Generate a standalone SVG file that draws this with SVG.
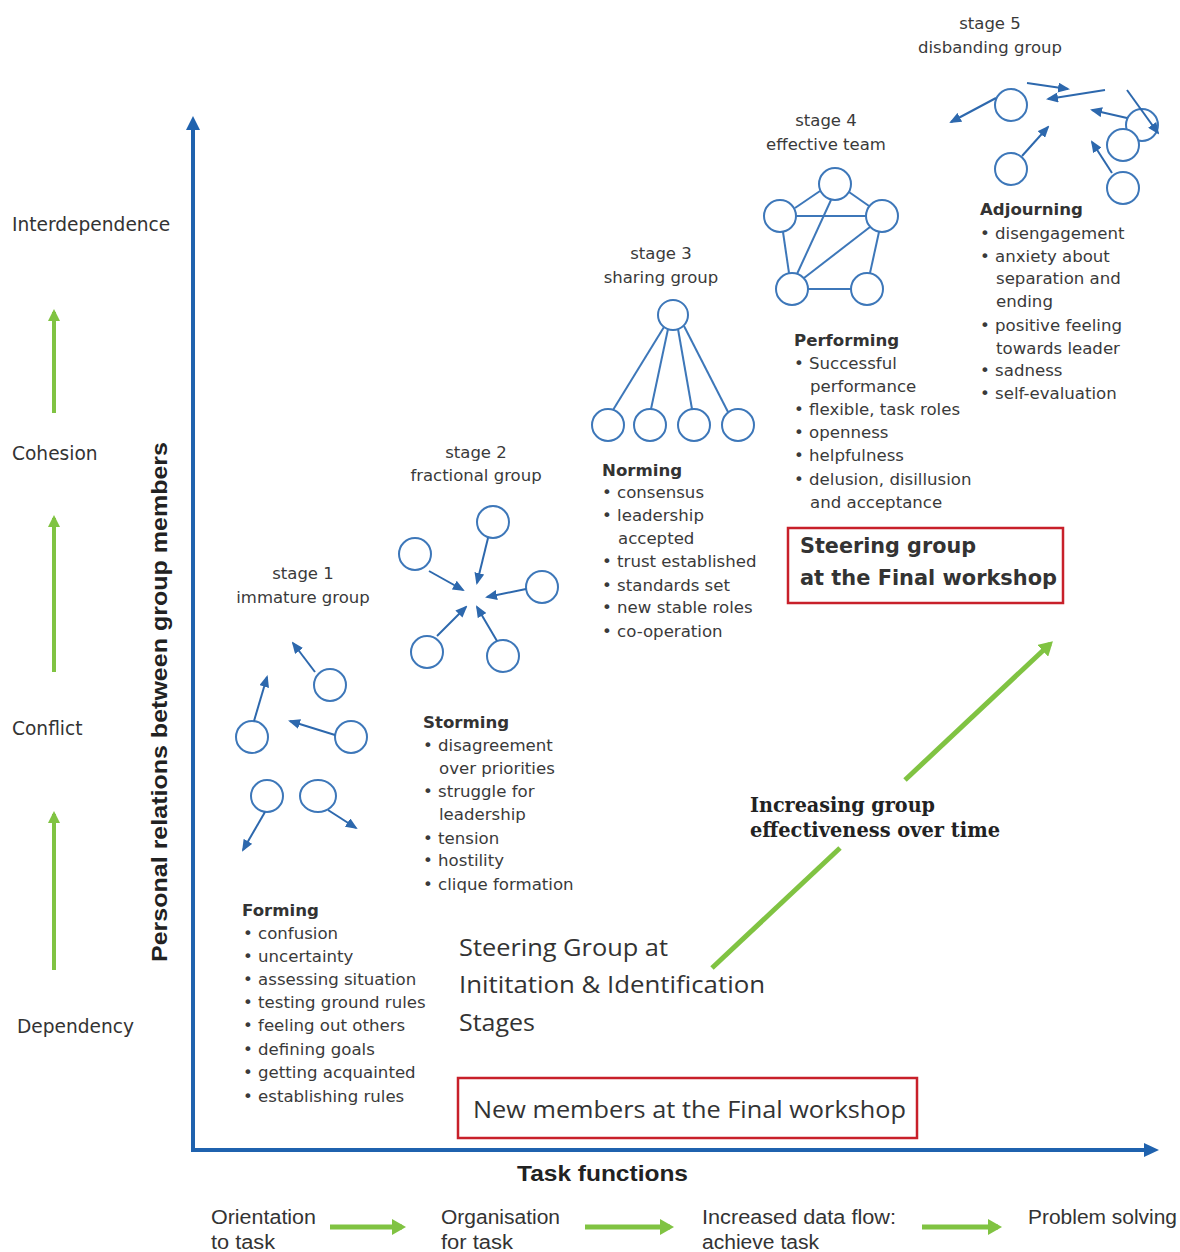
<svg xmlns="http://www.w3.org/2000/svg" width="1180" height="1252" viewBox="0 0 1180 1252">
<defs>
<style>
.t{font-family:"DejaVu Sans",Verdana,sans-serif;font-size:16.6px;fill:#3a3a3a}
.h{font-family:"DejaVu Sans",Verdana,sans-serif;font-size:16.6px;font-weight:bold;fill:#333}
.lab{font-family:"DejaVu Sans",Verdana,sans-serif;font-size:18.6px;fill:#333}
.st{font-family:"DejaVu Sans",Verdana,sans-serif;font-size:16.5px;fill:#3a3a3a;text-anchor:middle}
.c{fill:#fff;stroke:#3d77b9;stroke-width:2}
.e{stroke:#3d77b9;stroke-width:2;fill:none}
.a{stroke:#2d68ad;stroke-width:2;fill:none;marker-end:url(#bh)}
.g{stroke:#80c342;stroke-width:5;fill:none}
.gv{stroke:#80c342;stroke-width:4;fill:none;marker-end:url(#gh2)}
.ax{stroke:#1f62ae;stroke-width:4;fill:none}
.bl{font-family:"Liberation Sans",Arial,sans-serif;font-size:20px;fill:#333}
.os{font-family:"Open Sans","DejaVu Sans",sans-serif;font-size:23px;fill:#333}
.box{fill:none;stroke:#c8202a;stroke-width:2.5}
</style>
<marker id="bh" markerUnits="userSpaceOnUse" markerWidth="12" markerHeight="10" refX="10" refY="5" orient="auto"><path d="M0,0 L12,5 L0,10 z" fill="#2d68ad"/></marker>
<marker id="gh" markerUnits="userSpaceOnUse" markerWidth="14" markerHeight="16" refX="10" refY="8" orient="auto"><path d="M0,0 L14,8 L0,16 z" fill="#80c342"/></marker>
<marker id="gh2" markerUnits="userSpaceOnUse" markerWidth="12" markerHeight="12" refX="9" refY="6" orient="auto"><path d="M0,0 L12,6 L0,12 z" fill="#80c342"/></marker>
</defs>
<rect width="1180" height="1252" fill="#fff"/>

<g id="axes">
<line class="ax" x1="193" y1="1150" x2="193" y2="128"/>
<path d="M186,130 L193,116 L200,130 z" fill="#1f62ae"/>
<line class="ax" x1="191" y1="1150" x2="1146" y2="1150"/>
<path d="M1144,1143 L1159,1150 L1144,1157 z" fill="#1f62ae"/>
<text transform="translate(167,962) rotate(-90)" font-family="'Liberation Sans',Arial,sans-serif" font-size="22" font-weight="bold" fill="#222" textLength="520" lengthAdjust="spacingAndGlyphs">Personal relations between group members</text>
<text x="517" y="1181" font-family="'Liberation Sans',Arial,sans-serif" font-size="22" font-weight="bold" fill="#222" textLength="171" lengthAdjust="spacingAndGlyphs">Task functions</text>
</g>

<g id="left-scale">
<text class="lab" x="12" y="231">Interdependence</text>
<text class="lab" x="12" y="460">Cohesion</text>
<text class="lab" x="12" y="735">Conflict</text>
<text class="lab" x="17" y="1033">Dependency</text>
<line class="gv" x1="54" y1="970" x2="54" y2="814"/>
<line class="gv" x1="54" y1="672" x2="54" y2="518"/>
<line class="gv" x1="54" y1="413" x2="54" y2="312"/>
</g>

<g id="task-row">
<text class="bl" x="211" y="1224" textLength="105" lengthAdjust="spacingAndGlyphs">Orientation</text>
<text class="bl" x="211" y="1249" textLength="64" lengthAdjust="spacingAndGlyphs">to task</text>
<text class="bl" x="441" y="1224" textLength="119" lengthAdjust="spacingAndGlyphs">Organisation</text>
<text class="bl" x="441" y="1249" textLength="72" lengthAdjust="spacingAndGlyphs">for task</text>
<text class="bl" x="702" y="1224" textLength="194" lengthAdjust="spacingAndGlyphs">Increased data flow:</text>
<text class="bl" x="702" y="1249" textLength="117" lengthAdjust="spacingAndGlyphs">achieve task</text>
<text class="bl" x="1028" y="1224" textLength="149" lengthAdjust="spacingAndGlyphs">Problem solving</text>
<line x1="330" y1="1227" x2="402" y2="1227" stroke="#80c342" stroke-width="5" marker-end="url(#gh)"/>
<line x1="585" y1="1227" x2="670" y2="1227" stroke="#80c342" stroke-width="5" marker-end="url(#gh)"/>
<line x1="922" y1="1227" x2="998" y2="1227" stroke="#80c342" stroke-width="5" marker-end="url(#gh)"/>
</g>

<g id="stage1">
<text class="st" x="303" y="579">stage 1</text>
<text class="st" x="303" y="603">immature group</text>
<circle class="c" cx="330" cy="685" r="16"/>
<circle class="c" cx="252" cy="737" r="16"/>
<circle class="c" cx="351" cy="737" r="16"/>
<circle class="c" cx="267" cy="796" r="16"/>
<ellipse class="c" cx="318" cy="796" rx="18" ry="16"/>
<text class="h" x="242" y="916">Forming</text>
<text class="t" x="243" y="939">• confusion</text>
<text class="t" x="243" y="962">• uncertainty</text>
<text class="t" x="243" y="985">• assessing  situation</text>
<text class="t" x="243" y="1008">• testing ground rules</text>
<text class="t" x="243" y="1031">• feeling out others</text>
<text class="t" x="243" y="1055">• defining goals</text>
<text class="t" x="243" y="1078">• getting acquainted</text>
<text class="t" x="243" y="1102">• establishing rules</text>
</g>

<g id="stage2">
<text class="st" x="476" y="458">stage 2</text>
<text class="st" x="476" y="481">fractional group</text>
<circle class="c" cx="493" cy="522" r="16"/>
<circle class="c" cx="415" cy="554" r="16"/>
<circle class="c" cx="542" cy="587" r="16"/>
<circle class="c" cx="427" cy="652" r="16"/>
<circle class="c" cx="503" cy="656" r="16"/>
<text class="h" x="423" y="728">Storming</text>
<text class="t" x="423" y="751">• disagreement</text>
<text class="t" x="439" y="774">over priorities</text>
<text class="t" x="423" y="797">• struggle for</text>
<text class="t" x="439" y="820">leadership</text>
<text class="t" x="423" y="844">• tension</text>
<text class="t" x="423" y="866">• hostility</text>
<text class="t" x="423" y="890">• clique formation</text>
</g>

<g id="stage3">
<text class="st" x="661" y="259">stage 3</text>
<text class="st" x="661" y="283">sharing group</text>
<circle class="c" cx="673" cy="315" r="15"/>
<circle class="c" cx="608" cy="425" r="16"/>
<circle class="c" cx="650" cy="425" r="16"/>
<circle class="c" cx="694" cy="425" r="16"/>
<circle class="c" cx="738" cy="425" r="16"/>
<text class="h" x="602" y="476">Norming</text>
<text class="t" x="602" y="498">• consensus</text>
<text class="t" x="602" y="521">• leadership</text>
<text class="t" x="618" y="544">accepted</text>
<text class="t" x="602" y="567">• trust established</text>
<text class="t" x="602" y="591">• standards set</text>
<text class="t" x="602" y="613">• new stable roles</text>
<text class="t" x="602" y="637">• co-operation</text>
</g>

<g id="stage4">
<text class="st" x="826" y="126">stage 4</text>
<text class="st" x="826" y="150">effective team</text>
<circle class="c" cx="835" cy="184" r="16"/>
<circle class="c" cx="780" cy="216" r="16"/>
<circle class="c" cx="882" cy="216" r="16"/>
<circle class="c" cx="792" cy="289" r="16"/>
<circle class="c" cx="867" cy="289" r="16"/>
<text class="h" x="794" y="346">Performing</text>
<text class="t" x="794" y="369">• Successful</text>
<text class="t" x="810" y="392">performance</text>
<text class="t" x="794" y="415">• flexible, task roles</text>
<text class="t" x="794" y="438">• openness</text>
<text class="t" x="794" y="461">• helpfulness</text>
<text class="t" x="794" y="485">• delusion, disillusion</text>
<text class="t" x="810" y="508">and acceptance</text>
</g>

<g id="stage5">
<text class="st" x="990" y="29">stage 5</text>
<text class="st" x="990" y="53">disbanding group</text>
<circle class="c" cx="1011" cy="105" r="16"/>
<circle class="c" cx="1011" cy="169" r="16"/>
<circle class="c" cx="1142" cy="125" r="16"/>
<circle class="c" cx="1123" cy="145" r="16"/>
<circle class="c" cx="1123" cy="188" r="16"/>
<text class="h" x="980" y="215">Adjourning</text>
<text class="t" x="980" y="239">• disengagement</text>
<text class="t" x="980" y="262">• anxiety about</text>
<text class="t" x="996" y="284">separation and</text>
<text class="t" x="996" y="307">ending</text>
<text class="t" x="980" y="331">• positive feeling</text>
<text class="t" x="996" y="354">towards leader</text>
<text class="t" x="980" y="376">• sadness</text>
<text class="t" x="980" y="399">• self-evaluation</text>
</g>

<g id="connectors">
<line class="a" x1="315" y1="672" x2="293" y2="643"/>
<line class="a" x1="254" y1="721" x2="267" y2="677"/>
<line class="a" x1="335" y1="735" x2="290" y2="721"/>
<line class="a" x1="265" y1="812" x2="243" y2="850"/>
<line class="a" x1="328" y1="810" x2="356" y2="828"/>
<line class="a" x1="488" y1="538" x2="477" y2="583"/>
<line class="a" x1="429" y1="571" x2="463" y2="590"/>
<line class="a" x1="526" y1="589" x2="487" y2="597"/>
<line class="a" x1="437" y1="636" x2="466" y2="607"/>
<line class="a" x1="497" y1="641" x2="477" y2="607"/>
<line class="e" x1="664" y1="327" x2="613" y2="410"/>
<line class="e" x1="668" y1="329" x2="651" y2="409"/>
<line class="e" x1="678" y1="329" x2="692" y2="409"/>
<line class="e" x1="684" y1="326" x2="728" y2="412"/>
<line class="e" x1="820" y1="191" x2="795" y2="208"/>
<line class="e" x1="849" y1="192" x2="869" y2="206"/>
<line class="e" x1="796" y1="216" x2="866" y2="216"/>
<line class="e" x1="783" y1="232" x2="789" y2="273"/>
<line class="e" x1="831" y1="200" x2="797" y2="274"/>
<line class="e" x1="870" y1="227" x2="804" y2="278"/>
<line class="e" x1="879" y1="232" x2="870" y2="273"/>
<line class="e" x1="808" y1="289" x2="851" y2="289"/>
<line class="a" x1="996" y1="98" x2="951" y2="122"/>
<line class="a" x1="1027" y1="83" x2="1068" y2="89"/>
<line class="a" x1="1105" y1="90" x2="1048" y2="99"/>
<line class="a" x1="1127" y1="118" x2="1092" y2="110"/>
<line class="a" x1="1127" y1="90" x2="1158" y2="133"/>
<line class="a" x1="1112" y1="173" x2="1092" y2="142"/>
<line class="a" x1="1022" y1="156" x2="1048" y2="127"/>
<line class="g" x1="712" y1="968" x2="840" y2="848"/>
<line x1="905" y1="780" x2="1050" y2="644" stroke="#80c342" stroke-width="5" marker-end="url(#gh)"/>
</g>

<g id="effectiveness-label">
<text x="750" y="812" font-family="'DejaVu Serif','Liberation Serif',serif" font-size="21" font-weight="bold" fill="#222" textLength="185" lengthAdjust="spacingAndGlyphs">Increasing group</text>
<text x="750" y="837" font-family="'DejaVu Serif','Liberation Serif',serif" font-size="21" font-weight="bold" fill="#222" textLength="250" lengthAdjust="spacingAndGlyphs">effectiveness over time</text>
</g>

<g id="steering-final">
<rect class="box" x="788" y="528" width="275" height="75"/>
<text x="800" y="553" font-family="'DejaVu Sans',Verdana,sans-serif" font-size="22" font-weight="bold" fill="#333" textLength="176" lengthAdjust="spacingAndGlyphs">Steering group</text>
<text x="800" y="585" font-family="'DejaVu Sans',Verdana,sans-serif" font-size="22" font-weight="bold" fill="#333" textLength="257" lengthAdjust="spacingAndGlyphs">at the Final workshop</text>
</g>

<g id="steering-initiation">
<text class="os" x="459" y="956" textLength="209" lengthAdjust="spacingAndGlyphs">Steering Group at</text>
<text class="os" x="459" y="993" textLength="306" lengthAdjust="spacingAndGlyphs">Inititation &amp; Identification</text>
<text class="os" x="459" y="1031" textLength="76" lengthAdjust="spacingAndGlyphs">Stages</text>
</g>

<g id="new-members">
<rect class="box" x="458" y="1078" width="459" height="60"/>
<text class="os" x="473" y="1118" textLength="433" lengthAdjust="spacingAndGlyphs">New members at the Final workshop</text>
</g>
</svg>
